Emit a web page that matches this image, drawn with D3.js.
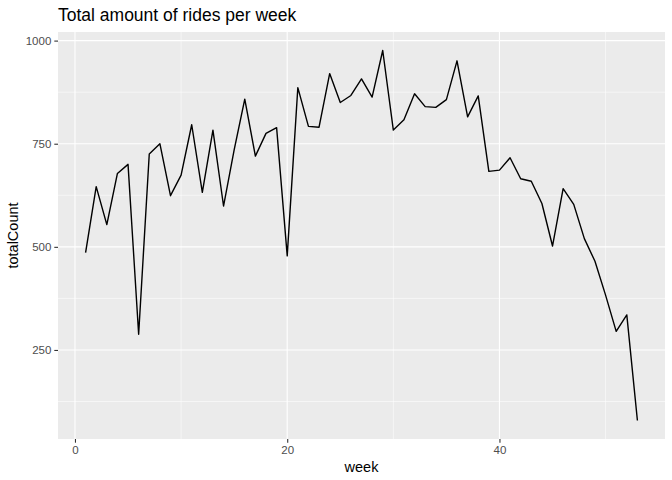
<!DOCTYPE html>
<html>
<head>
<meta charset="utf-8">
<script src="https://cdn.jsdelivr.net/npm/d3@7"></script>
<style>
    body { margin: 0; background: #fff; }
    svg { display: block; font-family: 'Liberation Sans', Arial, sans-serif; }
</style>
</head>
<body>
<svg width="672" height="480"></svg>
<script>
// weekly ride totals
var weeks = d3.range( 1, 54 ),
    totalCounts = [
        486, 646, 554, 678, 700, 288, 725, 750, 624, 674,
        796, 632, 783, 599, 735, 858, 720, 775, 789, 478,
        886, 792, 790, 920, 850, 867, 907, 863, 976, 783,
        808, 871, 840, 838, 857, 951, 815, 866, 683, 686,
        716, 665, 659, 605, 502, 641, 603, 520, 465, 383,
        295, 335, 79
    ],
    xTicks      = [ 0, 20, 40 ],
    xMinorTicks = [ 10, 30, 50 ],
    yTicks      = [ 250, 500, 750, 1000 ],
    yMinorTicks = [ 125, 375, 625, 875 ];

var data = weeks.map( function( w, i ) {
    return { week : w, totalCount : totalCounts[ i ] };
} );

var svg    = d3.select( 'svg' ),
    margin = { top : 32, right : 7, bottom : 41, left : 58 },
    width  = +svg.attr( 'width' ) - margin.left - margin.right,
    height = +svg.attr( 'height' ) - margin.top - margin.bottom;

// ggplot-style 5% expansion of the data range
var xExt = d3.extent( data, function( d ) { return d.week; } ),
    yExt = d3.extent( data, function( d ) { return d.totalCount; } ),
    xPad = ( xExt[ 1 ] - xExt[ 0 ] ) * 0.05,
    yPad = ( yExt[ 1 ] - yExt[ 0 ] ) * 0.05;

var x = d3.scaleLinear()
        .domain( [ xExt[ 0 ] - xPad, xExt[ 1 ] + xPad ] )
        .range( [ 0, width ] ),
    y = d3.scaleLinear()
        .domain( [ yExt[ 0 ] - yPad, yExt[ 1 ] + yPad ] )
        .range( [ height, 0 ] );

var g = svg.append( 'g' )
    .attr( 'transform', 'translate(' + margin.left + ',' + margin.top + ')' );

g.append( 'rect' )
    .attr( 'width', width )
    .attr( 'height', height )
    .attr( 'fill', '#EBEBEB' );

// minor grid
g.selectAll( '.xminor' )
    .data( xMinorTicks )
    .enter().append( 'line' )
    .attr( 'x1', function( d ) { return x( d ); } )
    .attr( 'x2', function( d ) { return x( d ); } )
    .attr( 'y1', 0 )
    .attr( 'y2', height )
    .attr( 'stroke', '#fff' )
    .attr( 'stroke-width', 0.55 );

g.selectAll( '.yminor' )
    .data( yMinorTicks )
    .enter().append( 'line' )
    .attr( 'x1', 0 )
    .attr( 'x2', width )
    .attr( 'y1', function( d ) { return y( d ); } )
    .attr( 'y2', function( d ) { return y( d ); } )
    .attr( 'stroke', '#fff' )
    .attr( 'stroke-width', 0.55 );

// major grid
g.selectAll( '.xmajor' )
    .data( xTicks )
    .enter().append( 'line' )
    .attr( 'x1', function( d ) { return x( d ); } )
    .attr( 'x2', function( d ) { return x( d ); } )
    .attr( 'y1', 0 )
    .attr( 'y2', height )
    .attr( 'stroke', '#fff' )
    .attr( 'stroke-width', 1.1 );

g.selectAll( '.ymajor' )
    .data( yTicks )
    .enter().append( 'line' )
    .attr( 'x1', 0 )
    .attr( 'x2', width )
    .attr( 'y1', function( d ) { return y( d ); } )
    .attr( 'y2', function( d ) { return y( d ); } )
    .attr( 'stroke', '#fff' )
    .attr( 'stroke-width', 1.1 );

var line = d3.line()
    .x( function( d ) { return x( d.week ); } )
    .y( function( d ) { return y( d.totalCount ); } );

g.append( 'path' )
    .datum( data )
    .attr( 'fill', 'none' )
    .attr( 'stroke', '#000' )
    .attr( 'stroke-width', 1.4 )
    .attr( 'stroke-linejoin', 'round' )
    .attr( 'd', line );

// axes
var xAxis = g.append( 'g' )
    .attr( 'transform', 'translate(0,' + height + ')' )
    .call( d3.axisBottom( x ).tickValues( xTicks ).tickFormat( d3.format( 'd' ) )
        .tickSize( 3.7 ).tickPadding( 3 ) );

var yAxis = g.append( 'g' )
    .call( d3.axisLeft( y ).tickValues( yTicks ).tickFormat( d3.format( 'd' ) )
        .tickSize( 3.7 ).tickPadding( 3 ) );

[ xAxis, yAxis ].forEach( function( axis ) {
    axis.select( '.domain' ).remove();
    axis.selectAll( '.tick line' ).attr( 'stroke', '#333' ).attr( 'stroke-width', 1.1 );
    axis.selectAll( '.tick text' )
        .attr( 'fill', '#4D4D4D' )
        .style( 'font-family', "'Liberation Sans', Arial, sans-serif" )
        .style( 'font-size', '11.5px' );
} );

svg.append( 'text' )
    .attr( 'x', margin.left )
    .attr( 'y', 21 )
    .attr( 'font-size', '17.5px' )
    .attr( 'fill', '#000' )
    .text( 'Total amount of rides per week' );

svg.append( 'text' )
    .attr( 'x', margin.left + width / 2 )
    .attr( 'y', 472 )
    .attr( 'text-anchor', 'middle' )
    .attr( 'font-size', '14.5px' )
    .attr( 'fill', '#000' )
    .text( 'week' );

svg.append( 'text' )
    .attr( 'transform', 'translate(18,' + ( margin.top + height / 2 ) + ') rotate(-90)' )
    .attr( 'text-anchor', 'middle' )
    .attr( 'font-size', '14.5px' )
    .attr( 'fill', '#000' )
    .text( 'totalCount' );
</script>
</body>
</html>
